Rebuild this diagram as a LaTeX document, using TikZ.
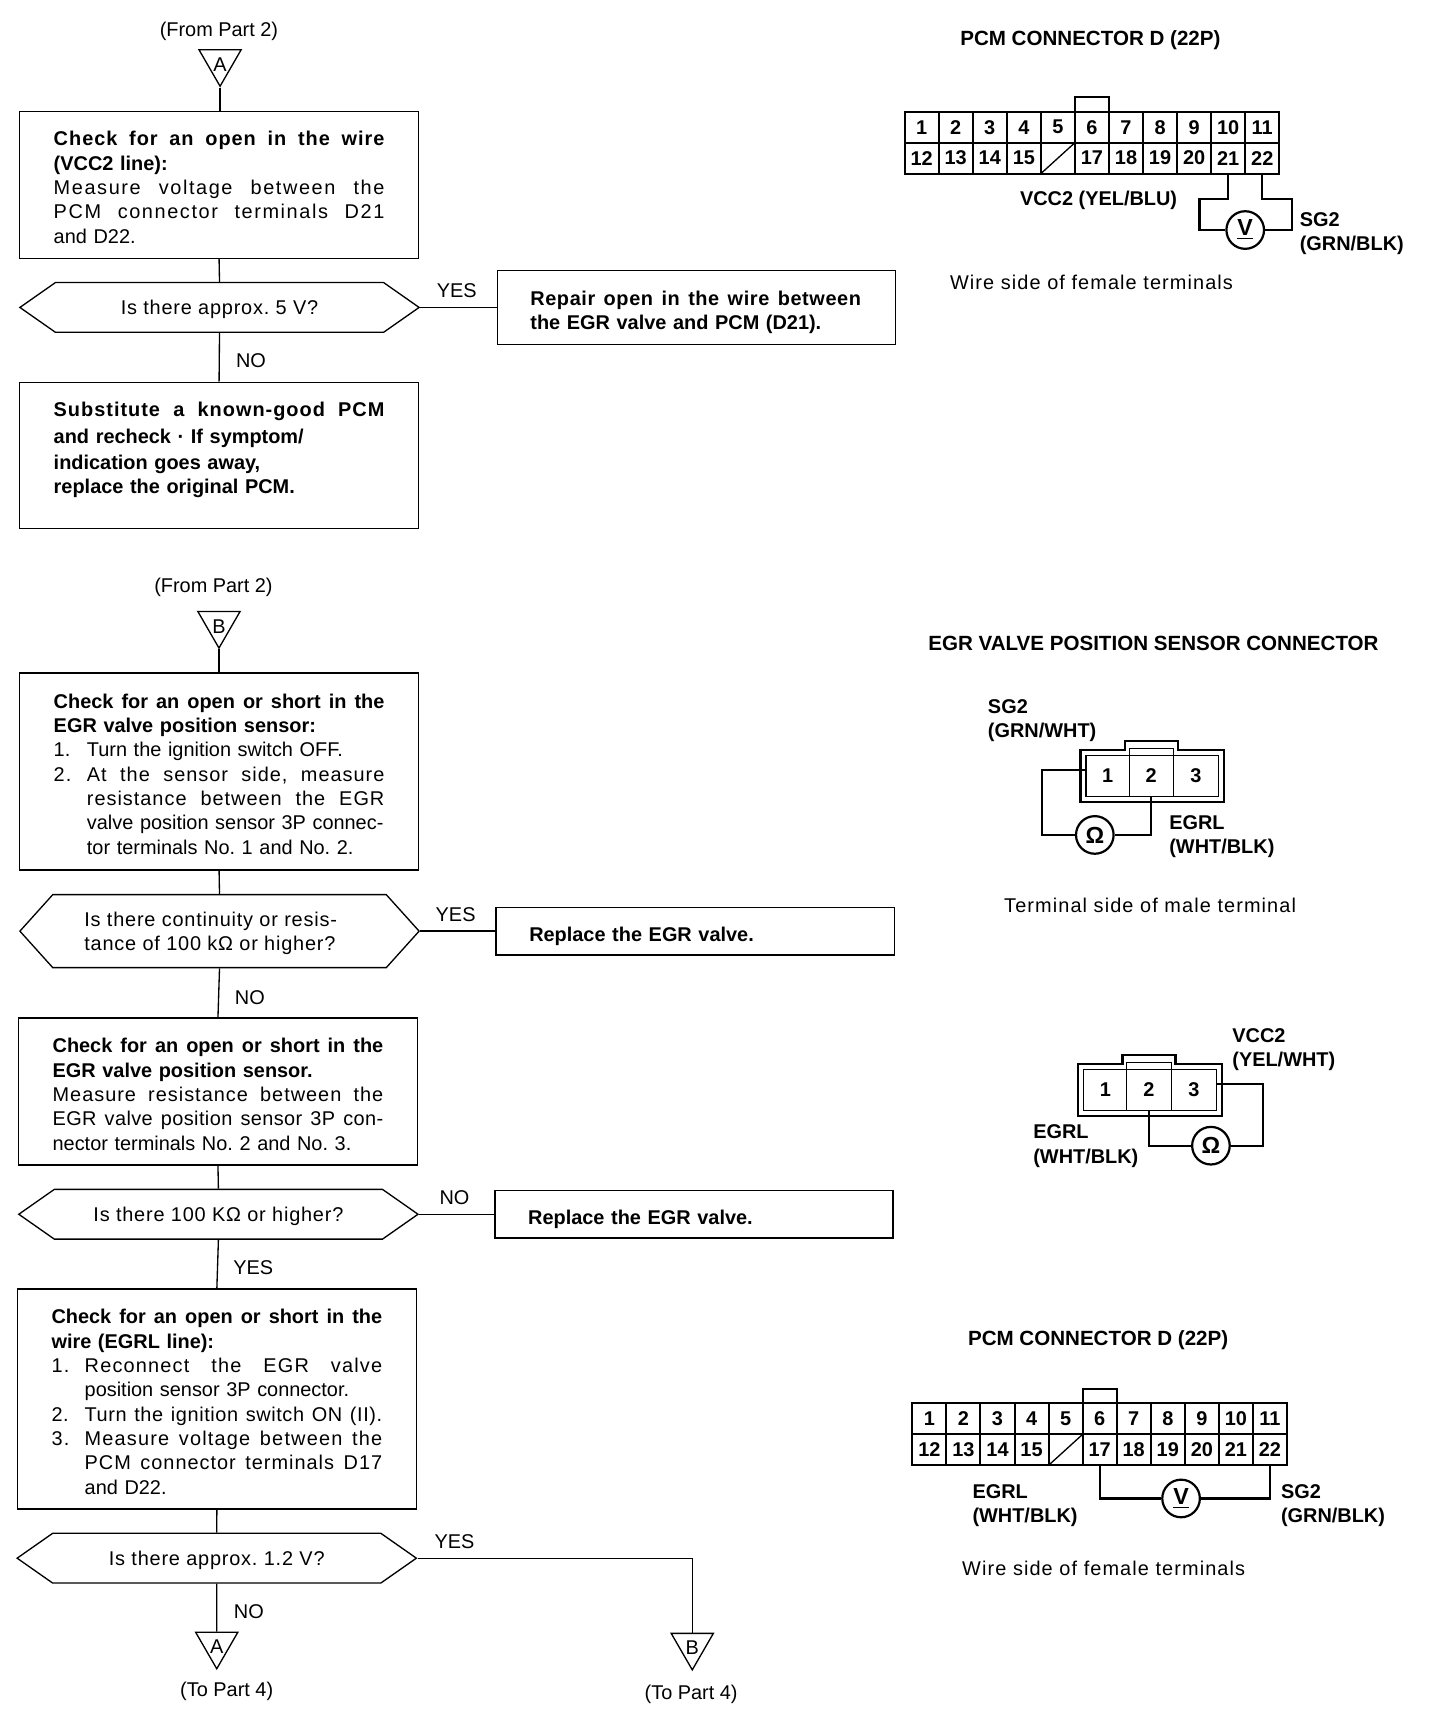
\documentclass[tikz,border=0pt]{standalone}
\usepackage{fontspec}
\setmainfont{Liberation Sans}
\usepackage{tikz}
\usetikzlibrary{shapes.geometric,shapes.symbols,positioning,calc}

\frenchspacing
\newcommand{\numitem}[1]{\makebox[15pt][l]{#1}}
\newcommand{\contitem}{\hspace*{15pt}}
\newcommand{\fline}[2][0]{{\spaceskip=0pt\xspaceskip=0pt\addfontfeature{LetterSpace=#1}\makebox[149.5pt][s]{#2}}}

\tikzset{
    base/.style={font=\fontsize{9}{11}\selectfont},
    wide/.style={font=\fontsize{9}{11}\selectfont\addfontfeature{LetterSpace=5.5}},
    head/.style={font=\fontsize{9.3}{11}\selectfont\bfseries},
    procbox/.style={base, draw, line width=.6pt, anchor=north west, align=left, text width=149.5pt, inner xsep=15.5pt, inner ysep=0pt, execute at begin node={\rule{0pt}{9pt}}},
    repbox/.style={procbox, text width=150pt, inner xsep=15pt, execute at begin node={\rule{0pt}{11pt}}},
    hexbox/.style={font=\fontsize{9}{11}\selectfont\addfontfeature{LetterSpace=4}, draw, line width=.6pt, shape=signal, signal to=east and west, signal pointer angle=70, minimum width=180.5pt, minimum height=22.5pt, inner sep=1pt, align=left, text depth=0pt},
    marker/.style={base, draw, line width=.6pt, regular polygon, regular polygon sides=3, shape border rotate=180, minimum size=22pt, inner sep=-3pt, text height=8.5pt, text depth=0pt},
    link/.style={line width=.6pt},
    wire/.style={line width=1pt},
    tag/.style={base, inner sep=0pt, yshift=-.5pt},
    pin/.style={font=\fontsize{9}{11}\selectfont\bfseries, inner sep=0pt, align=left, anchor=west, yshift=-1.2pt},
    cell/.style={draw, line width=.9pt, font=\fontsize{9}{11}\selectfont\bfseries, minimum width=15.4pt, minimum height=14pt, inner sep=0pt, outer sep=0pt},
    meter/.style={draw, circle, line width=1pt, minimum size=17pt, inner sep=0pt, font=\fontsize{10.5}{11}\selectfont\bfseries, fill=white},
}

% #1 name, #2 left, #3 top of the first row
\newcommand{\pcmconn}[3]{
    \foreach \n in {1,...,11}{
        \node[cell] (#1\n) at ({#2+(\n-.5)*30.8},{#3+14}) {\n};
    }
    \foreach \n in {12,...,15,17,18,...,22}{
        \node[cell] (#1\n) at ({#2+(\n-11.5)*30.8},{#3+42}) {\n};
    }
    \node[cell] (#116) at ({#2+4.5*30.8+.0},{#3+42}) {};
    \draw[line width=.6pt] (#116.south west) -- (#116.north east);
    \draw[line width=1pt] (#16.north west) -- ++(0,-13) -| (#16.north east);
}

% #1 name, #2 left, #3 top of the outer frame
\newcommand{\egrconn}[3]{
    \draw[line width=1pt] (#2,#3) -- ++(40,0) -- ++(0,-8) -- ++(48,0) -- ++(0,8) -- ++(42,0) -- ++(0,47) -- ++(-130,0) -- cycle;
    \node[cell, line width=.5pt, minimum width=19.5pt, minimum height=18.5pt] (#1-1) at (#2+24.5,#3+23.5) {1};
    \node[cell, line width=.5pt, minimum width=20pt, minimum height=18.5pt] (#1-2) at (#2+64,#3+23.5) {2};
    \node[cell, line width=.5pt, minimum width=20.5pt, minimum height=18.5pt] (#1-3) at (#2+104.5,#3+23.5) {3};
    \draw[line width=.5pt] (#1-2.north west) -- ++(0,-6) -| (#1-2.north east);
}

\begin{document}
\begin{tikzpicture}[x=.5pt,y=-.5pt]
    \useasboundingbox (0,0) rectangle (1302,1568);

    % first flow
    \node[tag] (from1) at (198,27) {(From Part 2)};
    \node[marker] (ma) at (199,56) {A};
    \node[procbox, minimum height=66.5pt] (chk1) at (17,100) {\textbf{\fline[5]{Check for an open in the wire}}\\\textbf{(VCC2 line):}\\\fline[8]{Measure voltage between the}\\\fline[8]{PCM connector terminals D21}\\and D22.};
    \node[hexbox] (hex1) at (198.5,278) {Is there approx. 5 V?};
    \node[repbox, minimum height=33.5pt] (rep1) at (449,244) {\textbf{\fline[3]{Repair open in the wire between}}\\\textbf{the EGR valve and PCM (D21).}};
    \node[procbox, minimum height=66pt] (chk2) at (17,345) {\textbf{\fline[5]{Substitute a known-good PCM}}\\[1pt]\textbf{and recheck · If symptom/}\\[1pt]\textbf{indication goes away,}\\\textbf{replace the original PCM.}\\[-2pt]\mbox{}};
    \node[tag] (y1) at (413,262) {YES};
    \node[tag] (n1) at (227,325) {NO};
    \draw[link] (ma.south) -- (chk1.north -| ma.south);
    \draw[link] (chk1.south) -- (hex1.north);
    \draw[link] (hex1.east) -- (rep1.west |- hex1.east);
    \draw[link] (hex1.south) -- (chk2.north);

    % second flow
    \node[tag] (from2) at (193,530) {(From Part 2)};
    \node[marker] (mb) at (198,564) {B};
    \node[procbox, minimum height=89pt] (chk3) at (17,608) {\textbf{\fline{Check for an open or short in the}}\\\textbf{EGR valve position sensor:}\\\numitem{1.}Turn the ignition switch OFF.\\\fline[5]{\numitem{2.}At the sensor side, measure}\\\fline[5]{\contitem resistance between the EGR}\\\contitem valve position sensor 3P connec-\\\contitem tor terminals No. 1 and No. 2.};
    \node[hexbox, minimum height=33pt, signal pointer angle=96] (hex2) at (198.5,842) {Is there continuity or resis-\hspace*{8pt}\\tance of 100 kΩ or higher?};
    \node[repbox, minimum height=21.5pt] (rep2) at (448,820) {\textbf{Replace the EGR valve.}};
    \node[procbox, minimum height=66.5pt] (chk4) at (16,920) {\textbf{\fline{Check for an open or short in the}}\\\textbf{EGR valve position sensor.}\\\fline[5]{Measure resistance between the}\\\fline[2]{EGR valve position sensor 3P con-}\\nector terminals No. 2 and No. 3.};
    \node[hexbox] (hex3) at (197.5,1098) {Is there 100 KΩ or higher?};
    \node[repbox, minimum height=21.5pt] (rep3) at (447,1076) {\textbf{Replace the EGR valve.}};
    \node[procbox, minimum height=99.5pt] (chk5) at (15,1165) {\textbf{\fline{Check for an open or short in the}}\\\textbf{wire (EGRL line):}\\\fline[6]{\numitem{1.}Reconnect the EGR valve}\\\contitem position sensor 3P connector.\\\fline[3]{\numitem{2.}Turn the ignition switch ON (II).}\\\fline[6]{\numitem{3.}Measure voltage between the}\\\fline[5]{\contitem PCM connector terminals D17}\\\contitem and D22.};
    \node[hexbox] (hex4) at (196,1409) {Is there approx. 1.2 V?};
    \node[marker] (ma2) at (196,1487) {A};
    \node[marker] (mb2) at (626,1488) {B};
    \node[tag] (to1) at (205,1528) {(To Part 4)};
    \node[tag] (to2) at (625,1531) {(To Part 4)};
    \node[tag] (y2) at (412,826) {YES};
    \node[tag] (n2) at (226,901) {NO};
    \node[tag] (n3) at (411,1082) {NO};
    \node[tag] (y3) at (229,1145) {YES};
    \node[tag] (y4) at (411,1393) {YES};
    \node[tag] (n4) at (225,1456) {NO};
    \draw[link] (mb.south) -- (chk3.north -| mb.south);
    \draw[link] (chk3.south) -- (hex2.north);
    \draw[link] (hex2.east) -- (rep2.west |- hex2.east);
    \draw[link] (hex2.south) -- (chk4.north);
    \draw[link] (chk4.south) -- (hex3.north);
    \draw[link] (hex3.east) -- (rep3.west |- hex3.east);
    \draw[link] (hex3.south) -- (chk5.north);
    \draw[link] (chk5.south) -- (hex4.north);
    \draw[link] (hex4.south) -- (ma2.north);
    \draw[link] (hex4.east) -| (mb2.north);

    % top connector
    \node[tag, head] (title1) at (986,35) {PCM CONNECTOR D (22P)};
    \pcmconn{d}{818}{101}
    \node[meter] (mv1) at (1126,208) {\underline{V}};
    \draw[wire] (d21.south) -- ++(0,23) -- ++(-26,0) |- (mv1.west);
    \draw[wire] (d22.south) -- ++(0,23) -- ++(27,0) |- (mv1.east);
    \node[pin] (vcc1) at (922,179) {VCC2 (YEL/BLU)};
    \node[pin] (sg1) at (1175,209) {SG2\\(GRN/BLK)};
    \node[tag, wide] (cap1) at (987,254) {Wire side of female terminals};

    % sensor connectors
    \node[tag, head] (title2) at (1043,581) {EGR VALVE POSITION SENSOR CONNECTOR};
    \egrconn{a}{977}{678}
    \node[meter] (om1) at (990,755) {Ω};
    \draw[wire] ([yshift=2.5pt]a-1.west) -- ++(-40,0) |- (om1.west);
    \draw[wire] (a-2.south) |- (om1.east);
    \node[pin] (sg2) at (893,649) {SG2\\(GRN/WHT)};
    \node[pin] (egr1) at (1057,754) {EGRL\\(WHT/BLK)};
    \node[tag, wide] (cap2) at (1040,818) {Terminal side of male terminal};
    \egrconn{b}{975}{962}
    \node[meter] (om2) at (1095,1036) {Ω};
    \draw[wire] ([yshift=2.5pt]b-3.east) -- ++(42,0) |- (om2.east);
    \draw[wire] (b-2.south) |- (om2.west);
    \node[pin] (vcc2) at (1114,947) {VCC2\\(YEL/WHT)};
    \node[pin] (egr2) at (934,1034) {EGRL\\(WHT/BLK)};

    % bottom connector
    \node[tag, head] (title3) at (993,1211) {PCM CONNECTOR D (22P)};
    \pcmconn{e}{825}{1269}
    \node[meter] (mv2) at (1068,1355) {\underline{V}};
    \draw[wire] (e17.south) |- (mv2.west);
    \draw[wire] (e22.south) |- (mv2.east);
    \node[pin] (egr3) at (879,1359) {EGRL\\(WHT/BLK)};
    \node[pin] (sg3) at (1158,1359) {SG2\\(GRN/BLK)};
    \node[tag, wide] (cap3) at (998,1417) {Wire side of female terminals};
\end{tikzpicture}
\end{document}
